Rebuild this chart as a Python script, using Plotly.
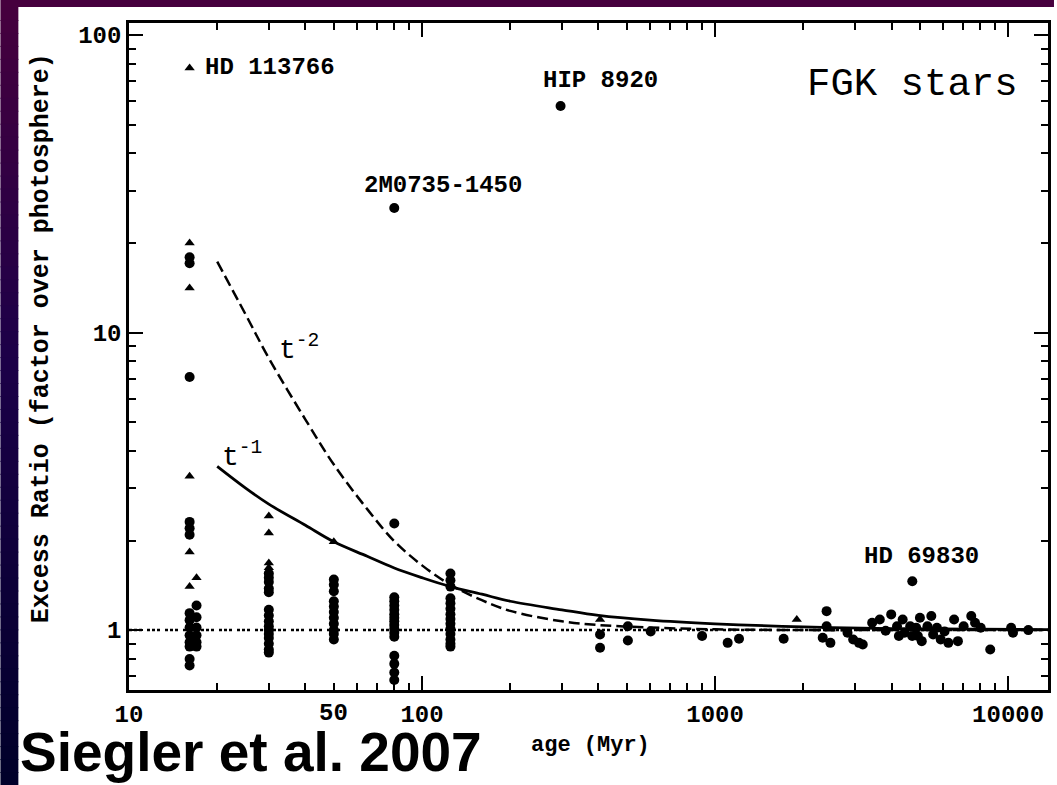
import numpy as np
import plotly.graph_objects as go

# ---------------- data ----------------
tri_age = [16.1, 16.1, 16.1, 16.1, 16.1, 16.1, 17.0, 30, 30, 30, 30, 50, 405, 1900]
tri_ratio = [77.5, 20.0, 14.1, 3.29, 1.83, 1.40, 1.50, 2.42, 2.12, 1.68, 1.62, 1.98, 1.086, 1.086]

circ_age = (
    [16.1] * 14 + [17.0] * 6 + [30] * 15 + [50] * 11 + [80.4] * 17 + [125] * 14 + [297]
    + [405, 405, 504, 504, 603, 903, 1104, 1207, 1714, 2402, 2402, 2330, 2475, 2831,
       2960, 3097, 3191, 3436, 3648, 3820, 3990, 4177, 4238, 4367, 4432, 4634, 4707,
       4710, 4856, 4920, 5000, 5073, 5305, 5469, 5548, 5715, 5888, 6068, 6253, 6542,
       6740, 7050, 7484, 7711, 8061, 8689, 10240, 10390, 11720]
)
circ_ratio = (
    [17.9, 17.1, 7.09, 2.31, 2.20, 2.09, 1.14, 1.08, 1.02, 0.96, 0.91, 0.88, 0.80, 0.76]
    + [1.21, 1.105, 1.02, 0.96, 0.91, 0.88]
    + [1.55, 1.50, 1.45, 1.38, 1.34, 1.17, 1.12, 1.07, 1.03, 1.00, 0.97, 0.94, 0.90, 0.86, 0.84]
    + [1.48, 1.42, 1.35, 1.25, 1.20, 1.15, 1.10, 1.05, 1.00, 0.97, 0.93]
    + [26.2, 2.28, 1.29, 1.25, 1.21, 1.17, 1.13, 1.10, 1.07, 1.04, 1.01, 0.98, 0.95, 0.82, 0.77, 0.72, 0.68]
    + [1.55, 1.47, 1.40, 1.28, 1.23, 1.18, 1.13, 1.09, 1.05, 1.01, 0.97, 0.93, 0.90, 0.88]
    + [57.7]
    + [0.967, 0.872, 1.03, 0.923, 0.99, 0.955, 0.906, 0.935, 0.935, 1.158, 1.03, 0.942, 0.906, 0.98,
       0.93, 0.906, 0.895, 1.058, 1.086, 0.995, 1.129, 1.03, 0.955, 1.086, 0.98, 1.03, 0.955,
       1.46, 1.018, 0.955, 1.10, 0.918, 1.03, 1.115, 0.967, 1.018, 0.93, 0.99, 0.906, 1.086,
       0.918, 1.03, 1.115, 1.058, 1.018, 0.861, 1.018, 0.98, 1.0]
)

curve_age = [20, 25, 30, 40, 50, 65, 80, 100, 125, 160, 200, 300, 400, 600, 1000, 2000, 4000, 13680]
t1_ratio = [3.55, 3.0, 2.65, 2.25, 1.98, 1.77, 1.62, 1.50, 1.40, 1.32, 1.25, 1.17, 1.12, 1.08, 1.05, 1.025, 1.012, 1.004]
t2_ratio = [17.3, 11.5, 8.2, 5.1, 3.6, 2.55, 2.0, 1.65, 1.42, 1.26, 1.16, 1.07, 1.04, 1.02, 1.006, 1.0, 1.0, 1.0]

photosphere_age = [10, 13680]
photosphere_ratio = [1, 1]

star_names = ["HD 113766", "2M0735-1450", "HIP 8920", "HD 69830"]
star_ages = [16.1, 80.4, 297, 4710]
star_ratios = [77.5, 26.2, 57.7, 1.46]

x_ticks = [10, 100, 1000, 10000]
y_ticks = [1, 10, 100]

# ---------------- figure ----------------
W, H = 1057, 785
L, R, T, B = 129, 6, 23, 95
PW, PH = W - L - R, H - T - B


def px(xp):
    return (xp - L) / PW


def py(yp):
    return (H - B - yp) / PH


MONO = "Liberation Mono"
fig = go.Figure()

fig.add_trace(go.Scatter(x=photosphere_age, y=photosphere_ratio, mode="lines",
                         line=dict(color="black", width=2.5, dash="3px,2px,3px,2px,3px,5px"),
                         hoverinfo="skip"))
fig.add_trace(go.Scatter(x=curve_age, y=t2_ratio, mode="lines",
                         line=dict(color="black", width=2.5, dash="11px,5px", shape="spline"),
                         hoverinfo="skip"))
fig.add_trace(go.Scatter(x=curve_age, y=t1_ratio, mode="lines",
                         line=dict(color="black", width=2.8, shape="spline"),
                         hoverinfo="skip"))
fig.add_trace(go.Scatter(x=circ_age, y=circ_ratio, mode="markers",
                         marker=dict(symbol="circle", size=10, color="black")))
fig.add_trace(go.Scatter(x=tri_age, y=tri_ratio, mode="markers",
                         marker=dict(symbol="triangle-up", size=9, color="black")))

x_minor = [k * 10 ** d for d in range(1, 5) for k in range(2, 10)]
y_minor = [k * 10 ** d for d in range(-1, 2) for k in range(2, 10)]

axis_common = dict(
    ticks="inside", ticklen=14, tickwidth=2, tickcolor="black",
    showline=True, linewidth=2.5, linecolor="black", mirror="ticks",
    showgrid=False, zeroline=False,
    tickfont=dict(family=MONO, size=24, color="black", weight="bold"),
)
fig.update_xaxes(type="log", range=[1, np.log10(13680)],
                 tickvals=x_ticks, ticktext=[str(v) for v in x_ticks],
                 minor=dict(tickvals=x_minor, ticks="inside", ticklen=7, tickwidth=2,
                            tickcolor="black", showgrid=False),
                 **axis_common)
fig.update_yaxes(type="log", range=[np.log10(0.629), np.log10(109.7)],
                 tickvals=y_ticks, ticktext=[str(v) for v in y_ticks],
                 minor=dict(tickvals=y_minor, ticks="inside", ticklen=7, tickwidth=2,
                            tickcolor="black", showgrid=False),
                 **axis_common)

annotations = []
label_font = dict(family=MONO, size=24, color="black", weight="bold")
shifts = [(13, 0), (-32, 23), (-20, 26), (-50, 25)]
for name, a, r, (dx, dy) in zip(star_names, star_ages, star_ratios, shifts):
    annotations.append(dict(x=np.log10(a), y=np.log10(r), xref="x", yref="y", text=name,
                             showarrow=False, xanchor="left", yanchor="middle",
                             xshift=dx, yshift=dy, font=label_font))

# model labels
annotations.append(dict(x=px(220), y=py(455), xref="paper", yref="paper",
                        text="t<sup>-1</sup>", showarrow=False, xanchor="left", yanchor="middle",
                        font=dict(family=MONO, size=28, color="black")))
annotations.append(dict(x=px(277), y=py(348), xref="paper", yref="paper",
                        text="t<sup>-2</sup>", showarrow=False, xanchor="left", yanchor="middle",
                        font=dict(family=MONO, size=28, color="black")))
# extra "50" tick label
annotations.append(dict(x=np.log10(50), y=0, xref="x", yref="paper", text="50",
                        showarrow=False, xanchor="center", yanchor="top", yshift=-8,
                        font=label_font))
# titles
annotations.append(dict(x=px(592), y=py(745), xref="paper", yref="paper", text="age (Myr)",
                        showarrow=False, xanchor="center", yanchor="middle",
                        font=dict(family=MONO, size=22, color="black", weight="bold")))
annotations.append(dict(x=px(41), y=py(338), xref="paper", yref="paper",
                        text="Excess Ratio (factor over photosphere)", textangle=-90,
                        showarrow=False, xanchor="center", yanchor="middle",
                        font=dict(family=MONO, size=25, color="black", weight="bold")))
annotations.append(dict(x=px(915), y=py(85), xref="paper", yref="paper", text="FGK stars",
                        showarrow=False, xanchor="center", yanchor="middle",
                        font=dict(family=MONO, size=39, color="black")))
annotations.append(dict(x=px(18), y=py(752), xref="paper", yref="paper",
                        text="<b>Siegler et al. 2007</b>",
                        showarrow=False, xanchor="left", yanchor="middle",
                        font=dict(family="Liberation Sans", size=55, color="black")))

# background frame: purple top band and gradient left band
shapes = [dict(type="rect", xref="paper", yref="paper", x0=px(0), x1=px(W), y0=py(7), y1=py(0),
               fillcolor="rgb(70,0,62)", line=dict(width=0), layer="below")]
stops = [(0.0, (70, 0, 62)), (0.45, (28, 0, 72)), (1.0, (0, 0, 42))]


def grad(t):
    for (t0, c0), (t1, c1) in zip(stops[:-1], stops[1:]):
        if t <= t1:
            f = (t - t0) / (t1 - t0)
            return tuple(int(round(a + (b - a) * f)) for a, b in zip(c0, c1))
    return stops[-1][1]


n = 60
for i in range(n):
    y0p = 7 + (H - 7) * i / n
    y1p = 7 + (H - 7) * (i + 1) / n + 1
    c = grad((i + 0.5) / n)
    shapes.append(dict(type="rect", xref="paper", yref="paper", x0=px(0), x1=px(18),
                       y0=py(y1p), y1=py(y0p), fillcolor="rgb(%d,%d,%d)" % c,
                       line=dict(width=0), layer="below"))

fig.update_layout(width=W, height=H, autosize=False,
                  margin=dict(l=L, r=R, t=T, b=B, pad=0),
                  paper_bgcolor="white", plot_bgcolor="white",
                  showlegend=False, annotations=annotations, shapes=shapes)

fig.write_html("out.html")
